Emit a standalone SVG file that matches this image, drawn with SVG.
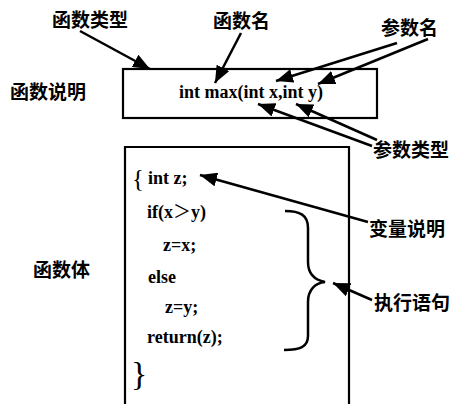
<svg xmlns="http://www.w3.org/2000/svg" width="456" height="404" viewBox="0 0 456 404">
<defs>
<style>
.cjk{font-family:"Noto Sans CJK SC","Noto Sans",sans-serif;font-size:19px;font-weight:bold;fill:#000;}
.code{font-family:"Liberation Serif","Times New Roman",serif;font-size:18px;font-weight:bold;fill:#000;}
.box{fill:none;stroke:#000;stroke-width:2.2;}
.arr{fill:none;stroke:#000;stroke-width:2.5;marker-end:url(#ah);}
.brace{fill:none;stroke:#000;stroke-width:2.5;}
</style>
<marker id="ah" markerUnits="userSpaceOnUse" markerWidth="18" markerHeight="14" refX="17" refY="7" orient="auto">
<path d="M0,0 L17,7 L0,14 z" fill="#000"/>
</marker>
</defs>
<rect width="456" height="404" fill="#fff"/>
<g id="label-hanshuleixing"><text class="cjk" x="52" y="27">函数类型</text></g>
<g id="label-hanshuming"><text class="cjk" x="213" y="28">函数名</text></g>
<g id="label-canshuming"><text class="cjk" x="381" y="35">参数名</text></g>
<g id="label-hanshushuoming"><text class="cjk" x="10" y="99">函数说明</text></g>
<g id="label-canshuleixing"><text class="cjk" x="373" y="157">参数类型</text></g>
<g id="label-bianliangshuoming"><text class="cjk" x="369" y="236">变量说明</text></g>
<g id="label-hanshuti"><text class="cjk" x="33" y="277">函数体</text></g>
<g id="label-zhixingyuju"><text class="cjk" x="374" y="310">执行语句</text></g>
<g id="decl-box">
<rect class="box" x="123" y="69" width="254" height="49"/>
<text class="code" x="251" y="98" text-anchor="middle">int max(int x,int y)</text>
</g>
<g id="body-box">
<path class="box" d="M125,404 V147 H349 V404"/>
<text class="code" x="132" y="187" style="font-weight:normal;font-size:25px">{</text>
<text class="code" x="148" y="184">int z;</text>
<text class="code" x="147" y="218">if(x<tspan font-family="Noto Sans CJK SC, sans-serif" font-weight="normal">＞</tspan>y)</text>
<text class="code" x="163" y="251">z=x;</text>
<text class="code" x="148" y="283">else</text>
<text class="code" x="165" y="313">z=y;</text>
<text class="code" x="147" y="343">return(z);</text>
<text class="code" x="131" y="385" style="font-weight:normal;font-size:34px">}</text>
<path class="brace" d="M285,211 C300,211 308,215 308,228 L308,262 C308,275 315,280 325,282 C315,283 308,290 308,302 L308,336 C308,347 300,350 284,350"/>
</g>
<g id="connectors">
<line class="arr" x1="80" y1="31" x2="150" y2="69"/>
<line class="arr" x1="241" y1="33" x2="215" y2="83"/>
<line class="arr" x1="397" y1="43" x2="276" y2="81"/>
<line class="arr" x1="428" y1="39" x2="318" y2="84"/>
<line class="arr" x1="372" y1="146" x2="258" y2="104"/>
<line class="arr" x1="377" y1="140" x2="296" y2="104"/>
<line class="arr" x1="368" y1="222" x2="200" y2="175"/>
<line class="arr" x1="372" y1="300" x2="333" y2="283"/>
</g>
</svg>
